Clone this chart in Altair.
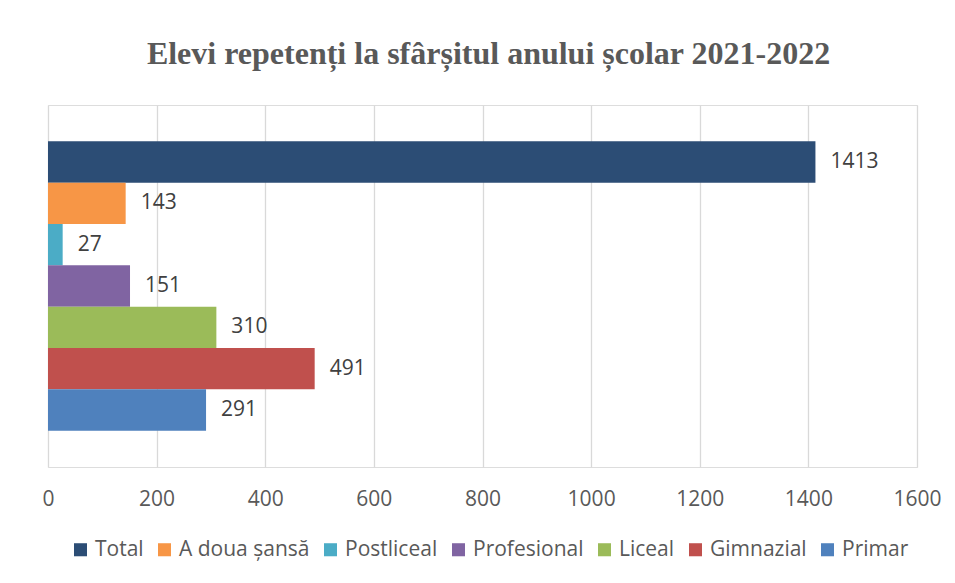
import altair as alt
import pandas as pd

series = ["Total", "A doua șansă", "Postliceal", "Profesional", "Liceal", "Gimnazial", "Primar"]
values = [1413, 143, 27, 151, 310, 491, 291]
colors = ["#2C4D75", "#F79646", "#4BACC6", "#8064A2", "#9BBB59", "#C0504D", "#4F81BD"]
ticks = [0, 200, 400, 600, 800, 1000, 1200, 1400, 1600]

df = pd.DataFrame({"serie": series, "valoare": values})

FONT = "Open Sans"
TXT = "#595959"

x = alt.X("valoare:Q",
          scale=alt.Scale(domain=[0, 1600], nice=False),
          axis=alt.Axis(values=ticks, title=None, domain=False, ticks=False,
                        grid=True, gridColor="#D9D9D9", gridWidth=1.3,
                        format="d", labelFlush=False,
                        labelFont=FONT, labelFontSize=21, labelColor=TXT,
                        labelPadding=21))
y = alt.Y("serie:N", sort=series,
          scale=alt.Scale(domain=series, paddingInner=0, paddingOuter=0.88),
          axis=None)

bars = alt.Chart(df).mark_bar().encode(
    x=x, y=y,
    color=alt.Color("serie:N",
                    scale=alt.Scale(domain=series, range=colors),
                    legend=alt.Legend(title=None, orient="none", direction="horizontal",
                                      legendX=22, legendY=434, symbolType="square",
                                      symbolSize=170, symbolStrokeWidth=0,
                                      labelFont=FONT, labelFontSize=21, labelColor=TXT,
                                      columnPadding=10, labelOffset=4,
                                      values=series))
)

labels = alt.Chart(df).mark_text(align="left", baseline="middle", dx=15,
                                  font=FONT, fontSize=21, color="#404040").encode(
    x="valoare:Q", y=alt.Y("serie:N", sort=series), text=alt.Text("valoare:Q", format="d")
)

chart = (bars + labels).properties(
    width=869, height=362,
    title=alt.TitleParams("Elevi repetenți la sfârșitul anului școlar 2021-2022",
                          font="Liberation Serif", fontSize=32, fontWeight="bold",
                          color=TXT, anchor="middle", offset=34, dx=6),
    autosize=alt.AutoSizeParams(type="none"),
    padding={"left": 40, "top": 97, "right": 30, "bottom": 108},
).configure_view(stroke=None).configure(background="white")

chart.save("out.html", embed_options={"renderer": "svg", "actions": False})
